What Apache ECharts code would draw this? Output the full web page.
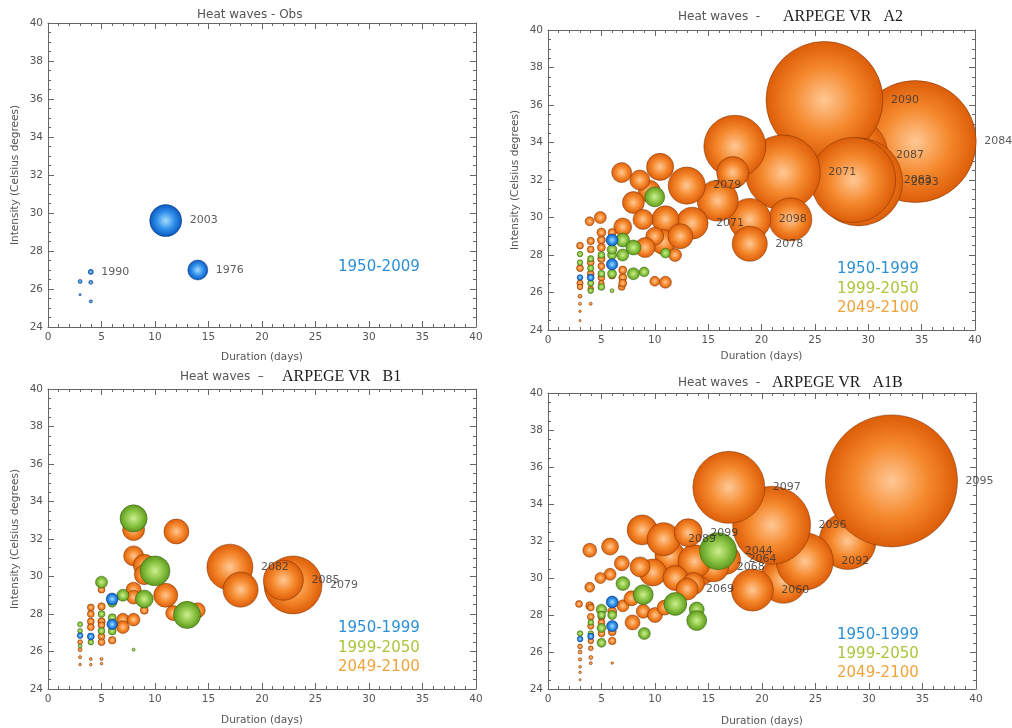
<!DOCTYPE html>
<html><head><meta charset="utf-8">
<script src="https://cdn.jsdelivr.net/npm/echarts@6/dist/echarts.min.js"></script>
<style>html,body{margin:0;padding:0;background:#fff}#c{width:1012px;height:728px}</style>
</head><body><div id="c"></div>
<script>
// Each point: [duration (days), intensity (°C), severity, optional year label]
const obsPts = [[4,25.35,0.6],[3,25.7,0.3],[3,26.4,1],[4,26.35,1],[4,26.9,1.6,'1990'],[14,27.0,25,'1976'],[11,29.6,64,'2003']];

const a2Late = [
  [34.4,34.05,930,'2084'],[28.1,33.3,400,'2087'],[25.9,36.27,855,'2090'],[29.1,31.9,484,'2093'],[28.6,32.0,452,'2083'],
  [22.0,32.4,352,'2071'],[17.5,33.8,240],[22.7,29.9,116],[18.9,29.9,110,'2098'],[15.9,30.9,105],
  [18.9,28.6,77,'2078'],[13.0,31.7,86,'2079'],[17.3,32.4,64],[13.5,29.7,64,'2071'],
  [10.5,32.7,46],[11.0,29.9,46],[9.5,31.4,30],[8.6,32.0,25],[8.0,30.8,30],[8.9,29.9,25],[6.9,32.4,25],
  [10.8,28.7,39],[12.4,29.0,39],[10.0,29.0,20],[9.1,28.4,25],[7.0,29.5,20],[11.9,28.0,10.5],
  [4.9,30.0,9],[3.9,29.8,5],[10.0,26.6,6],[11.0,26.55,9],[7.0,26.8,4],[6.9,26.3,3],
  [3,28.5,3],[3,27.3,3],[3,26.5,2.5],[3,26.3,2],[3,25.8,1],[3,25.4,0.6],[3,25.0,0.4],[3,24.5,0.3],
  [4,28.75,3.5],[4,28.3,3],[4,27.6,3],[4,27.0,3],[4,26.2,2],[4,25.4,0.6],
  [5,29.2,5],[5,28.8,4],[5,28.4,4],[5,27.8,3.5],[5,27.4,3],[5,26.8,3],[5,26.5,2],
  [6,29.2,4],[6,28.2,4],[6,26.9,3],[7,27.2,4],[7,26.5,4]
];
const a2Mid = [[10.0,31.1,25],[7.0,28.8,12],[8.0,28.4,14],[7.0,28.0,9],[11.0,28.1,6],[8.0,27.0,9],[9.0,27.1,6],
  [6.0,28.0,5],[6.0,27.0,5],[6,28.3,6],[3,28.05,2],[3,27.6,2],[4,27.8,2.5],[4,27.3,2.5],[4,26.5,2.5],[4,26.1,2],
  [5,28.0,3],[5,27.0,3],[5,26.3,3],[6,26.1,1]];
const a2Early = [[6.0,28.8,9],[6.0,27.5,8],[4.0,26.8,3],[3.0,26.8,2]];

const b1Late = [
  [22.9,29.55,210,'2079'],[17.0,30.5,132,'2082'],[22.0,29.8,100,'2085'],[18.0,29.3,77],[12.0,32.4,39],[8.0,32.5,30],
  [8.0,31.1,25],[9.0,30.6,30],[9.0,30.1,25],[11.0,29.0,36],[11.7,28.05,14],[14.0,28.2,14],[8.0,29.3,14],[8.0,28.9,12],
  [9.0,28.2,4],[7.0,27.7,10],[7.0,27.3,10],[8.0,27.7,10],[5.0,29.3,3],[5.0,28.4,3.5],[5.0,27.6,3.5],[5.0,27.4,3],
  [5.0,26.8,3],[5.0,26.5,3],[6.0,26.6,3.5],[4.0,28.35,3],[4.0,28.0,3],[4.0,27.6,3],[4.0,27.3,3],
  [3.0,26.5,1.5],[3,26.1,1],[3,25.7,0.6],[3,25.3,0.4],[4,25.6,0.5],[4,25.3,0.4],[5,25.6,0.6],[5,25.35,0.5]
];
const b1Mid = [[8.0,33.1,46],[10.0,30.3,56],[13.0,27.95,46],[9.0,28.8,20],[7.0,29.0,9],[5.0,29.7,9],[5.0,28.0,3],
  [5.0,27.1,3],[6.0,27.8,4],[6.0,27.1,4],[6,28.6,5],[4.0,26.5,2],[3.0,27.45,1.6],[3.0,27.1,1.5],[3,26.3,1],[8,26.1,0.6]];
const b1Early = [[6.0,28.8,9],[6.0,27.45,7],[4.0,26.8,3],[3.0,26.85,2]];

const a1bLate = [
  [28.0,32.0,203],[32.1,35.25,1089,'2095'],[22.0,29.9,138],[24.0,30.9,203,'2092'],[20.9,32.85,380,'2096'],
  [16.9,34.9,324,'2097'],[19.1,29.35,110,'2060'],[13.9,30.6,100],[16.6,31.0,56,'2064'],[15.5,30.6,56,'2068'],
  [8.8,32.6,56],[11.4,31.2,56],[13.7,30.9,68],[10.8,32.1,68,'2089'],[13.1,32.45,49,'2099'],[9.8,30.3,46],
  [11.9,30.0,39],[8.6,30.6,25],[13.6,29.7,30],[13.0,29.4,30,'2069'],
  [5.8,31.7,18],[3.9,31.5,12],[6.9,30.8,14],[5.8,30.2,9],[4.9,30.0,7.5],[3.9,29.5,6],[2.9,28.6,3],[3.9,28.5,4],
  [7,28.5,9],[7.8,28.9,14],[8.9,28.2,12],[7.9,27.6,14],[10,28.0,14],[10.9,28.4,14],
  [4,28.4,3],[4,27.9,3],[4,27.4,2.5],[4,26.6,2],[4,26.2,1.5],[4,25.7,1],[4,25.4,0.6],
  [3,26.3,1.5],[3,26.0,1],[3,25.6,0.7],[3,25.2,0.5],[3,24.9,0.4],[3,24.5,0.3],
  [5,27.9,3],[5,27.6,3],[5,27.0,3],[6,28.2,5],[6,27.1,4],[6,26.6,3.5],[6,25.4,0.4]
];
const a1bMid = [[15.9,31.45,86,'2044'],[11.9,28.6,33],[13.9,28.3,14],[13.9,27.7,25],[8.9,29.1,25],[7.0,29.7,12],
  [9.0,27.0,9],[5.0,28.3,7],[5.0,27.3,5],[5.0,26.5,5],[6.0,28.0,5],[3.0,27.0,2],[4.0,27.0,2],[4.0,27.6,2],[5,28.0,4]];
const a1bEarly = [[6.0,28.7,9],[6.0,27.4,8],[4.0,26.85,2.5],[3.0,26.7,2]];

const xTicks = {min:0, max:40, interval:5};
const yTicks = {min:24, max:40, interval:2};
const periodNames = ['1950-1999','1999-2050','2049-2100'];
const obsPeriod = '1950-2009';
const panelTitles = [['Heat waves - Obs',''],['Heat waves  -','ARPEGE VR   A2'],['Heat waves  –','ARPEGE VR   B1'],['Heat waves  -','ARPEGE VR   A1B']];

const SIZE_K = 4;
const grids = [
  {left:48, top:23, width:428, height:304},
  {left:548, top:30, width:427, height:300},
  {left:48, top:389, width:428, height:300},
  {left:548, top:393, width:428, height:300}
];
function grad(c0,c1,c2){return {type:'radial',x:0.5,y:0.5,r:0.5,colorStops:[{offset:0,color:c0},{offset:0.55,color:c1},{offset:1,color:c2}]};}
const ORANGE = grad('#ffc895','#f5882c','#dc5c08');
const GREEN = grad('#cdef90','#8cc444','#5a961c');
const BLUE = grad('#a4dcff','#2f8fe8','#0a56bf');
const font = 'DejaVu Sans';
const axisCol = '#666';

const xAxes=[], yAxes=[];
grids.forEach((g,i)=>{
  const common = {gridIndex:i, ...xTicks, splitLine:{show:false},
    axisLine:{show:true,onZero:false,lineStyle:{color:axisCol,width:1}},
    axisTick:{show:true,inside:true,length:6,lineStyle:{color:axisCol}},
    minorTick:{show:true,splitNumber:5,length:3,lineStyle:{color:axisCol}}};
  xAxes.push({type:'value', position:'bottom', ...common,
    axisLabel:{color:'#555',fontSize:10.5,fontFamily:font,margin:5},
    name:'Duration (days)', nameLocation:'middle', nameGap:[25,21,26,27][i],
    nameTextStyle:{color:'#555',fontSize:10.5,fontFamily:font}});
  xAxes.push({type:'value', position:'top', ...common, axisLabel:{show:false}});
  const ycommon = {gridIndex:i, ...yTicks, splitLine:{show:false},
    axisLine:{show:true,onZero:false,lineStyle:{color:axisCol,width:1}},
    axisTick:{show:true,inside:true,length:6,lineStyle:{color:axisCol}},
    minorTick:{show:true,splitNumber:4,length:3,lineStyle:{color:axisCol}}};
  yAxes.push({type:'value', position:'left', ...ycommon,
    axisLabel:{color:'#555',fontSize:10.5,fontFamily:font,margin:5},
    name: i===3 ? '' : 'Intensity (Celsius degrees)', nameLocation:'middle', nameGap:27,
    nameTextStyle:{color:'#555',fontSize:10.5,fontFamily:font}});
  yAxes.push({type:'value', position:'right', ...ycommon, axisLabel:{show:false}});
});

const sizeFn = v => SIZE_K*Math.sqrt(v[2]);
function bubbles(data, idx, fill, border){
  return {type:'scatter', xAxisIndex:2*idx, yAxisIndex:2*idx, data:data, symbolSize:sizeFn, silent:true,
    itemStyle:{color:fill, borderColor:border, borderWidth:0.8, opacity:1},
    emphasis:{disabled:true}, animation:false};
}
function labels(all, idx){
  return {type:'scatter', xAxisIndex:2*idx, yAxisIndex:2*idx, z:10, silent:true, animation:false,
    data: all.filter(p=>p.length>3), symbolSize:sizeFn,
    itemStyle:{color:'rgba(0,0,0,0)', borderWidth:0},
    label:{show:true, position:'right', distance:8, formatter:p=>p.value[3], color:'#333', fontSize:11, fontFamily:font}};
}
const OB='rgba(110,45,0,0.6)', GB='rgba(40,80,0,0.55)', BB='rgba(0,40,110,0.6)';
const series = [
  bubbles(obsPts,0,BLUE,BB), labels(obsPts,0),
  bubbles(a2Late,1,ORANGE,OB), bubbles(a2Mid,1,GREEN,GB), bubbles(a2Early,1,BLUE,BB), labels(a2Late.concat(a2Mid),1),
  bubbles(b1Late,2,ORANGE,OB), bubbles(b1Mid,2,GREEN,GB), bubbles(b1Early,2,BLUE,BB), labels(b1Late.concat(b1Mid),2),
  bubbles(a1bLate,3,ORANGE,OB), bubbles(a1bMid,3,GREEN,GB), bubbles(a1bEarly,3,BLUE,BB), labels(a1bLate.concat(a1bMid),3)
];

const periodCols = ['#2b8fd6','#a9c63c','#f0a33a'];
const graphics = [];
function txt(x,y,text,fill,f){graphics.push({type:'text', z:100, style:{x:x,y:y,text:text,fill:fill,font:f,verticalAlign:'middle'}});}
// titles
txt(197,15,panelTitles[0][0],'#555','12px "DejaVu Sans"');
const tPos=[null,[678,783,17],[180,282,377],[678,772,383]];
for(let i=1;i<4;i++){
  txt(tPos[i][0],tPos[i][2],panelTitles[i][0],'#555','12px "DejaVu Sans"');
  txt(tPos[i][1],tPos[i][2],panelTitles[i][1],'#1a1a1a','16px "Liberation Serif"');
}
// period legends
txt(338,267,obsPeriod,'#2b8fd6','15px "DejaVu Sans"');
const lPos=[null,[837,[269,289,308]],[338,[628,648,667]],[837,[635,654,673]]];
for(let i=1;i<4;i++) periodNames.forEach((n,k)=>txt(lPos[i][0],lPos[i][1][k],n,periodCols[k],'15px "DejaVu Sans"'));

const chart = echarts.init(document.getElementById('c'));
chart.setOption({backgroundColor:'#fff', animation:false, grid:grids, xAxis:xAxes, yAxis:yAxes, series:series, graphic:graphics});
</script></body></html>
